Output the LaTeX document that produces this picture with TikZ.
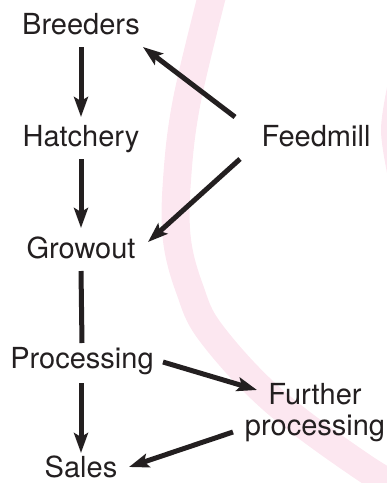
\documentclass[tikz,border=0pt]{standalone}
\usepackage{fontspec}
\setmainfont{TeX Gyre Heros}
\usetikzlibrary{arrows.meta}
\definecolor{ink}{RGB}{35,31,32}
\definecolor{wmpink}{RGB}{252,231,240}
\tikzset{
  lbl/.style={inner sep=0pt, outer sep=0pt, text=ink, font=\fontsize{29}{31}\selectfont},
  arr/.style={draw=ink, line width=5pt, -{Stealth[length=20pt,width=14pt,inset=4pt]}},
  plain/.style={draw=ink, line width=5pt},
  band/.style={draw=wmpink, line width=28pt, line cap=round}
}
\begin{document}
\begin{tikzpicture}[x=1pt,y=-1pt]
\useasboundingbox (0,0) rectangle (387,483);
% background watermark band
\draw[band] plot[smooth, tension=0.6] coordinates {(216,-20) (187,100) (177,180) (177,240) (190,290) (211,333) (273,400) (363,467) (420,500)};
\draw[draw=wmpink, line width=10pt] plot[smooth] coordinates {(398,60) (386,130) (398,200)};
% nodes
\node[lbl, anchor=base] (breeders) at (81,34) {Breeders};
\node[lbl, anchor=base] (hatchery) at (81,146) {Hatchery};
\node[lbl, anchor=base] (feedmill) at (316,146) {Feedmill};
\node[lbl, anchor=base] (growout) at (81,258) {Growout};
\node[lbl, anchor=base] (processing) at (82,368) {Processing};
\node[lbl, anchor=north, align=center] (further) at (315,383) {Further\\processing};
\node[lbl, anchor=base] (sales) at (81,477) {Sales};
% connectors
\draw[arr] ([yshift=-13pt]breeders.base) -- ([yshift=29pt]hatchery.base);
\draw[arr] ([yshift=-13pt]hatchery.base) -- ([yshift=30pt]growout.base);
\draw[plain] ([yshift=-13pt]growout.base) -- ([yshift=25pt]processing.base);
\draw[arr] ([shift={(-1pt,-15pt)}]processing.base) -- ([yshift=24pt]sales.base);
\draw[arr] ([shift={(-81pt,29pt)}]feedmill.base) -- ([shift={(62pt,-13pt)}]breeders.base);
\draw[arr] ([shift={(-76pt,-13pt)}]feedmill.base) -- ([shift={(67pt,16pt)}]growout.base);
\draw[arr] ([shift={(81pt,6pt)}]processing.base) -- ([shift={(-58pt,-7pt)}]further.north);
\draw[arr] ([shift={(-82pt,-49pt)}]further.north) -- ([shift={(48pt,10pt)}]sales.base);
\end{tikzpicture}
\end{document}
